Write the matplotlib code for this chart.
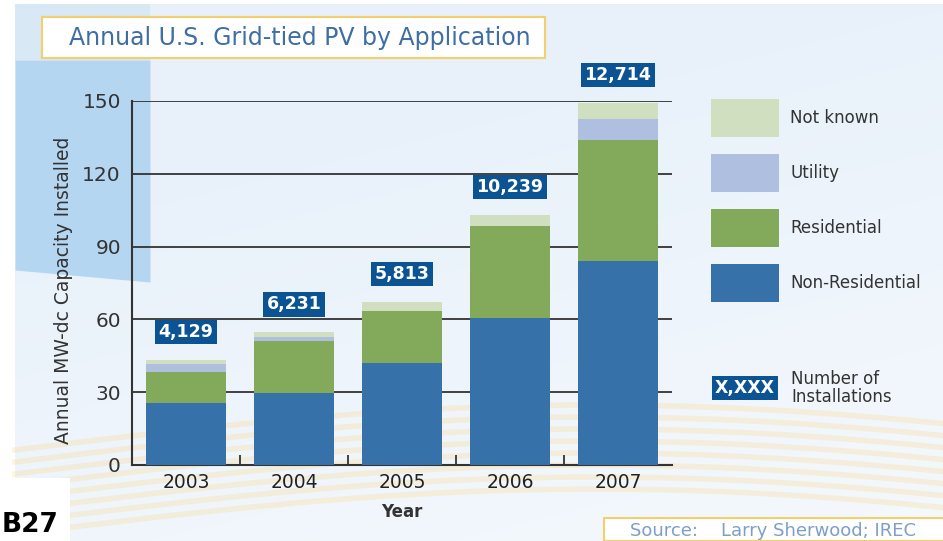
import matplotlib
matplotlib.use('Agg')
import matplotlib.pyplot as plt
from matplotlib.patches import Rectangle
import numpy as np

# data (MW-dc)
years = ['2003', '2004', '2005', '2006', '2007']
non_residential = [25.4, 29.5, 42.2, 60.7, 84.1]
residential = [13.0, 21.6, 21.4, 37.6, 49.7]
utility = [3.1, 1.8, 0.0, 0.0, 8.8]
not_known = [1.8, 1.8, 3.6, 4.8, 6.7]
installations = ['4,129', '6,231', '5,813', '10,239', '12,714']

c_nonres = '#3771a9'
c_res = '#83aa5a'
c_util = '#aebfdf'
c_unk = '#d1dfc1'
c_box = '#0c5394'

W, H = 943, 541
fig = plt.figure(figsize=(W / 100, H / 100), dpi=100)
fig.patch.set_facecolor('white')

def fx(px):
    return px / W

def fy(py):
    return 1 - py / H

# ---- background panel ----
bg = fig.add_axes([0, 0, 1, 1], zorder=0)
bg.set_xlim(0, W)
bg.set_ylim(H, 0)
bg.axis('off')
yy, xx = np.mgrid[0:H, 0:W]
t = np.clip((yy / H) * 0.7 + (xx / W) * 0.3 - 0.25, 0, 1)
top = np.array([0.91, 0.945, 0.98])
bot = np.array([0.975, 0.985, 0.995])
img = top[None, None, :] * (1 - t[..., None]) + bot[None, None, :] * t[..., None]
bg.imshow(img, extent=[15, W, H, 4], aspect='auto', zorder=0)
# left blue band with a curved lower edge
bg.add_patch(Rectangle((15, 4), 135, 56, color='#d9e8f5', lw=0, zorder=1))
bx = np.linspace(15, 150, 50)
by = 270 + 12 * (bx - 15) / 135
bg.fill_between(bx, 60, by, color='#b5d6f0', lw=0, zorder=1)
# faint orange arcs near the bottom
xs = np.linspace(15, W, 200)
for k in range(8):
    ys = 450 + k * 12 - 45 * np.sin(np.pi * (xs - 15) / (W - 15) * 0.8)
    bg.plot(xs, ys, color='#fcd98f', lw=4, alpha=0.3, zorder=2)
# white corner behind the page label
bg.add_patch(Rectangle((0, 478), 70, 63, color='white', lw=0, zorder=3))

# ---- title box ----
fig.patches.append(Rectangle((fx(42), fy(58)), fx(503), (58 - 17) / H,
                             transform=fig.transFigure, facecolor='white',
                             edgecolor='#f4cf6c', lw=1.5, zorder=5))
fig.text(fx(69), fy(38), 'Annual U.S. Grid-tied PV by Application',
         color='#3e6ea4', fontsize=17, va='center', ha='left', zorder=6)

# ---- main chart ----
ax = fig.add_axes([fx(132), fy(465), fx(672 - 132), (465 - 101) / H], zorder=4)
ax.patch.set_alpha(0)
x = np.arange(len(years))
w = 0.74
b1 = np.array(non_residential)
b2 = b1 + np.array(residential)
b3 = b2 + np.array(utility)
ax.bar(x, non_residential, w, color=c_nonres, zorder=3)
ax.bar(x, residential, w, bottom=b1, color=c_res, zorder=3)
ax.bar(x, utility, w, bottom=b2, color=c_util, zorder=3)
ax.bar(x, not_known, w, bottom=b3, color=c_unk, zorder=3)
totals = b3 + np.array(not_known)

for i, lab in enumerate(installations):
    ax.annotate(lab, (x[i], totals[i]), xytext=(0, 20), textcoords='offset points',
                ha='center', va='center', color='white', fontsize=12.5,
                fontweight='bold', zorder=6,
                bbox=dict(boxstyle='square,pad=0.18', fc=c_box, ec='none'))

ax.set_xlim(-0.5, len(years) - 0.5)
ax.set_ylim(0, 150)
ax.set_yticks([0, 30, 60, 90, 120, 150])
ax.yaxis.grid(True, color='#333333', lw=1.3, zorder=1)
ax.set_axisbelow(True)
ax.tick_params(axis='y', length=0, labelsize=14.5, pad=8, labelcolor='#333333')
ax.set_xticks(x)
ax.set_xticklabels(years)
ax.tick_params(axis='x', which='major', length=0, labelsize=13.5, pad=6,
               labelcolor='#222222')
ax.set_xticks(x[:-1] + 0.5, minor=True)
ax.tick_params(axis='x', which='minor', direction='in', length=7, width=1.3,
               color='#333333')
for s in ['top', 'right']:
    ax.spines[s].set_visible(False)
for s in ['left', 'bottom']:
    ax.spines[s].set_color('#333333')
    ax.spines[s].set_linewidth(1.5)

fig.text(fx(64), fy(290), 'Annual MW-dc Capacity Installed', rotation=90,
         ha='center', va='center', fontsize=13.5, color='#333333', zorder=6)
fig.text(fx(402), fy(512), 'Year', ha='center', va='center', fontsize=12,
         fontweight='bold', color='#333333', zorder=6)

# ---- legend ----
legend_items = [('Not known', c_unk, 118), ('Utility', c_util, 173),
                ('Residential', c_res, 228), ('Non-Residential', c_nonres, 283)]
for name, col, cy in legend_items:
    fig.patches.append(Rectangle((fx(711), fy(cy + 19)), fx(68), 38 / H,
                                 transform=fig.transFigure, color=col, lw=0,
                                 zorder=5))
    fig.text(fx(790), fy(cy), name, ha='left', va='center', fontsize=12,
             color='#333333', zorder=6)
fig.text(fx(745), fy(388), 'X,XXX', ha='center', va='center', fontsize=12.5,
         fontweight='bold', color='white', zorder=6,
         bbox=dict(boxstyle='square,pad=0.15', fc=c_box, ec='none'))
fig.text(fx(791), fy(388), 'Number of\nInstallations', ha='left', va='center',
         fontsize=12, color='#333333', linespacing=1.05, zorder=6)

# ---- page label and source ----
fig.text(fx(2), fy(525), 'B27', ha='left', va='center', fontsize=19,
         fontweight='bold', color='black', zorder=6)
fig.patches.append(Rectangle((fx(604), 0), fx(345), (541 - 518) / H,
                             transform=fig.transFigure, facecolor='white',
                             edgecolor='#f4cf6c', lw=1.5, zorder=5))
fig.text(fx(630), fy(531), 'Source:    Larry Sherwood; IREC', ha='left',
         va='center', fontsize=13, color='#7d9ecb', zorder=6)

fig.savefig('out.png', dpi=100)
